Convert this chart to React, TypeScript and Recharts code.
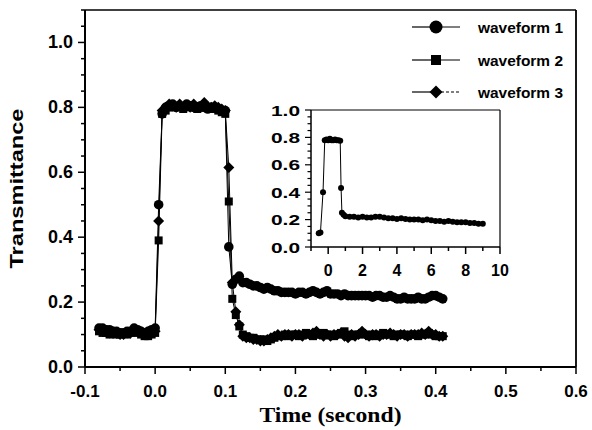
import React from "react";
import { LineChart, Line, XAxis, YAxis, ReferenceLine, Legend } from "recharts";

// main plot: time (s) and transmittance of the three waveforms
const times = [
  -0.08, -0.075, -0.07, -0.065, -0.06, -0.055, -0.05, -0.045, -0.04, -0.035,
  -0.03, -0.025, -0.02, -0.015, -0.01, -0.005, 0, 0.005, 0.01, 0.015,
  0.02, 0.025, 0.03, 0.035, 0.04, 0.045, 0.05, 0.055, 0.06, 0.065,
  0.07, 0.075, 0.08, 0.085, 0.09, 0.095, 0.1, 0.105, 0.11, 0.115,
  0.12, 0.125, 0.13, 0.135, 0.14, 0.145, 0.15, 0.155, 0.16, 0.165,
  0.17, 0.175, 0.18, 0.185, 0.19, 0.195, 0.2, 0.205, 0.21, 0.215,
  0.22, 0.225, 0.23, 0.235, 0.24, 0.245, 0.25, 0.255, 0.26, 0.265,
  0.27, 0.275, 0.28, 0.285, 0.29, 0.295, 0.3, 0.305, 0.31, 0.315,
  0.32, 0.325, 0.33, 0.335, 0.34, 0.345, 0.35, 0.355, 0.36, 0.365,
  0.37, 0.375, 0.38, 0.385, 0.39, 0.395, 0.4, 0.405, 0.41,
];

const wave1 = [
  0.12, 0.12, 0.115, 0.115, 0.11, 0.11, 0.105, 0.105, 0.11, 0.11,
  0.12, 0.115, 0.11, 0.105, 0.11, 0.115, 0.12, 0.5, 0.78, 0.8,
  0.805, 0.81, 0.8, 0.805, 0.8, 0.81, 0.805, 0.8, 0.8, 0.805,
  0.8, 0.795, 0.8, 0.8, 0.795, 0.79, 0.79, 0.37, 0.255, 0.27,
  0.28, 0.26, 0.26, 0.255, 0.25, 0.25, 0.245, 0.24, 0.245, 0.24,
  0.235, 0.235, 0.23, 0.23, 0.23, 0.23, 0.225, 0.23, 0.23, 0.225,
  0.23, 0.235, 0.23, 0.225, 0.23, 0.235, 0.225, 0.225, 0.225, 0.22,
  0.225, 0.22, 0.22, 0.22, 0.22, 0.22, 0.22, 0.22, 0.215, 0.22,
  0.22, 0.215, 0.215, 0.22, 0.215, 0.21, 0.21, 0.215, 0.21, 0.21,
  0.21, 0.215, 0.21, 0.21, 0.215, 0.22, 0.22, 0.215, 0.21,
];

const wave2 = [
  0.11, 0.105, 0.105, 0.1, 0.105, 0.1, 0.1, 0.105, 0.1, 0.105,
  0.11, 0.105, 0.1, 0.095, 0.095, 0.1, 0.105, 0.39, 0.78, 0.79,
  0.8, 0.8, 0.805, 0.8, 0.795, 0.8, 0.805, 0.8, 0.795, 0.8,
  0.8, 0.8, 0.795, 0.8, 0.79, 0.785, 0.78, 0.51, 0.21, 0.16,
  0.125, 0.1, 0.095, 0.09, 0.09, 0.085, 0.085, 0.085, 0.08, 0.085,
  0.09, 0.095, 0.095, 0.1, 0.095, 0.1, 0.1, 0.095, 0.1, 0.105,
  0.1, 0.095, 0.1, 0.1, 0.105, 0.1, 0.1, 0.095, 0.1, 0.105,
  0.11, 0.1, 0.095, 0.1, 0.1, 0.105, 0.1, 0.095, 0.1, 0.095,
  0.1, 0.105, 0.1, 0.1, 0.095, 0.1, 0.1, 0.1, 0.095, 0.1,
  0.1, 0.095, 0.1, 0.1, 0.105, 0.1, 0.095, 0.095, 0.095,
];

const wave3 = [
  0.115, 0.11, 0.11, 0.105, 0.105, 0.105, 0.1, 0.1, 0.105, 0.105,
  0.115, 0.11, 0.105, 0.1, 0.1, 0.105, 0.11, 0.45, 0.79, 0.8,
  0.81, 0.805, 0.8, 0.81, 0.8, 0.805, 0.8, 0.81, 0.8, 0.8,
  0.815, 0.8, 0.8, 0.805, 0.8, 0.795, 0.79, 0.615, 0.26, 0.17,
  0.13, 0.095, 0.09, 0.09, 0.085, 0.085, 0.08, 0.08, 0.085, 0.09,
  0.095, 0.1, 0.095, 0.1, 0.1, 0.095, 0.1, 0.1, 0.095, 0.1,
  0.1, 0.105, 0.11, 0.1, 0.095, 0.1, 0.095, 0.1, 0.1, 0.105,
  0.095, 0.09, 0.1, 0.095, 0.1, 0.11, 0.1, 0.095, 0.1, 0.1,
  0.095, 0.1, 0.1, 0.105, 0.1, 0.095, 0.1, 0.1, 0.095, 0.1,
  0.1, 0.1, 0.105, 0.1, 0.11, 0.1, 0.1, 0.095, 0.095,
];

const seriesNames = ["waveform 1", "waveform 2", "waveform 3"];

// inset: long time scale
const insetTimes = [
  -0.55, -0.45, -0.3, -0.2, -0.1, 0, 0.1, 0.2, 0.3, 0.4,
  0.5, 0.6, 0.7, 0.75, 0.8, 0.9, 1.0, 1.25, 1.5, 1.75,
  2.0, 2.25, 2.5, 2.75, 3.0, 3.25, 3.5, 3.75, 4.0, 4.25,
  4.5, 4.75, 5.0, 5.25, 5.5, 5.75, 6.0, 6.25, 6.5, 6.75,
  7.0, 7.25, 7.5, 7.75, 8.0, 8.25, 8.5, 8.75, 9.0,
];
const insetValues = [
  0.1, 0.105, 0.4, 0.78, 0.785, 0.78, 0.79, 0.78, 0.78, 0.785,
  0.78, 0.78, 0.775, 0.43, 0.25, 0.235, 0.225, 0.22, 0.22, 0.215,
  0.22, 0.215, 0.215, 0.22, 0.22, 0.215, 0.21, 0.21, 0.205, 0.21,
  0.205, 0.2, 0.2, 0.2, 0.195, 0.2, 0.195, 0.19, 0.19, 0.185,
  0.19, 0.185, 0.18, 0.18, 0.18, 0.175, 0.175, 0.17, 0.17,
];

// ticks
const xMajor = [-0.1, 0, 0.1, 0.2, 0.3, 0.4, 0.5, 0.6];
const xMinor = [-0.05, 0.05, 0.15, 0.25, 0.35, 0.45, 0.55];
const yMajor = [0, 0.2, 0.4, 0.6, 0.8, 1.0];
const yMinor = [
  0.05, 0.1, 0.15, 0.25, 0.3, 0.35, 0.45, 0.5, 0.55, 0.65, 0.7, 0.75,
  0.85, 0.9, 0.95, 1.05, 1.1,
];
const insetXMajor = [0, 2, 4, 6, 8, 10];
const insetXMinor = [-1, 1, 3, 5, 7, 9];
const insetYMajor = [0, 0.2, 0.4, 0.6, 0.8, 1.0];
const insetYMinor = [
  0.05, 0.1, 0.15, 0.25, 0.3, 0.35, 0.45, 0.5, 0.55, 0.65, 0.7, 0.75,
  0.85, 0.9, 0.95,
];

const data = times.map((t, i) => ({ t, w1: wave1[i], w2: wave2[i], w3: wave3[i] }));
const insetData = insetTimes.map((t, i) => ({ t, v: insetValues[i] }));

const sortTicks = (a: number[], b: number[]) => [...a, ...b].sort((p, q) => p - q);
const isIn = (list: number[], v: number) => list.some((m) => Math.abs(m - v) < 1e-6);

const SANS = "'Liberation Sans', Arial, sans-serif";
const SERIF = "'Liberation Serif', 'Times New Roman', serif";

function MainXTick(props: any) {
  const { x, y, payload } = props;
  const major = isIn(xMajor, payload.value);
  return (
    <g>
      <line x1={x} y1={y} x2={x} y2={y + (major ? 7 : 4)} stroke="#000" strokeWidth={1.5} />
      {major && (
        <text x={x} y={y + 30} textAnchor="middle" fontFamily={SANS} fontWeight="bold" fontSize={17} fill="#000">
          {payload.value.toFixed(1)}
        </text>
      )}
    </g>
  );
}

function MainYTick(props: any) {
  const { x, y, payload } = props;
  const major = isIn(yMajor, payload.value);
  return (
    <g>
      <line x1={x} y1={y} x2={x - (major ? 7 : 4)} y2={y} stroke="#000" strokeWidth={1.5} />
      {major && (
        <text x={x - 12} y={y + 6} textAnchor="end" fontFamily={SANS} fontWeight="bold" fontSize={18} fill="#000">
          {payload.value.toFixed(1)}
        </text>
      )}
    </g>
  );
}

function InsetXTick(props: any) {
  const { x, y, payload } = props;
  const major = isIn(insetXMajor, payload.value);
  return (
    <g>
      <line x1={x} y1={y} x2={x} y2={y + (major ? 7 : 4)} stroke="#000" strokeWidth={1.5} />
      {major && (
        <text x={x} y={y + 29} textAnchor="middle" fontFamily={SANS} fontWeight="bold" fontSize={16} fill="#000">
          {String(payload.value)}
        </text>
      )}
    </g>
  );
}

function InsetYTick(props: any) {
  const { x, y, payload } = props;
  const major = isIn(insetYMajor, payload.value);
  return (
    <g>
      <line x1={x} y1={y} x2={x - (major ? 6 : 3.5)} y2={y} stroke="#000" strokeWidth={1.2} />
      {major && (
        <text
          x={x - 11}
          y={y + 5.5}
          textAnchor="end"
          fontFamily={SANS}
          fontWeight="bold"
          fontSize={15}
          textLength={29}
          lengthAdjust="spacingAndGlyphs"
          fill="#000"
        >
          {payload.value.toFixed(1)}
        </text>
      )}
    </g>
  );
}

const CircleDot = (p: any) =>
  p.cx == null ? <g key={p.index} /> : <circle key={p.index} cx={p.cx} cy={p.cy} r={4.8} fill="#000" />;
const SquareDot = (p: any) =>
  p.cx == null ? <g key={p.index} /> : <rect key={p.index} x={p.cx - 4} y={p.cy - 4} width={8} height={8} fill="#000" />;
const DiamondDot = (p: any) =>
  p.cx == null ? (
    <g key={p.index} />
  ) : (
    <path key={p.index} d={`M${p.cx},${p.cy - 5.5}L${p.cx + 5.5},${p.cy}L${p.cx},${p.cy + 5.5}L${p.cx - 5.5},${p.cy}Z`} fill="#000" />
  );
const SmallDot = (p: any) =>
  p.cx == null ? <g key={p.index} /> : <circle key={p.index} cx={p.cx} cy={p.cy} r={3} fill="#000" />;

function renderLegend() {
  const rows = [27, 60, 92];
  return (
    <svg width={180} height={110}>
      {seriesNames.map((name, i) => {
        const y = rows[i];
        return (
          <g key={name}>
            <line x1={12} y1={y} x2={36} y2={y} stroke="#000" strokeWidth={1.2} />
            <line x1={36} y1={y} x2={60} y2={y} stroke="#000" strokeWidth={1} strokeDasharray={i === 2 ? "3 2" : undefined} />
            {i === 0 && <circle cx={36} cy={y} r={6.5} fill="#000" />}
            {i === 1 && <rect x={31} y={y - 5} width={10} height={10} fill="#000" />}
            {i === 2 && <path d={`M36,${y - 6.5}L42.5,${y}L36,${y + 6.5}L29.5,${y}Z`} fill="#000" />}
            <text x={78} y={y + 6} fontFamily={SANS} fontWeight="bold" fontSize={15} textLength={85} lengthAdjust="spacingAndGlyphs" fill="#000">
              {name}
            </text>
          </g>
        );
      })}
    </svg>
  );
}

const xTitle = (props: any) => {
  const vb = props.viewBox;
  return (
    <text
      x={vb.x + vb.width / 2}
      y={vb.y + 55}
      textAnchor="middle"
      fontFamily={SERIF}
      fontWeight="bold"
      fontSize={21}
      textLength={142}
      lengthAdjust="spacingAndGlyphs"
      fill="#000"
    >
      Time (second)
    </text>
  );
};

const yTitle = (props: any) => {
  const vb = props.viewBox;
  const cx = vb.x + 23;
  const cy = vb.y + vb.height / 2;
  return (
    <text
      x={cx}
      y={cy}
      transform={`rotate(-90, ${cx}, ${cy})`}
      textAnchor="middle"
      fontFamily={SANS}
      fontWeight="bold"
      fontSize={18}
      textLength={160}
      lengthAdjust="spacingAndGlyphs"
      fill="#000"
    >
      Transmittance
    </text>
  );
};

export default function App() {
  return (
    <div style={{ position: "absolute", left: 0, top: 0, width: 592, height: 430, background: "#fff" }}>
      <LineChart width={592} height={430} data={data} margin={{ top: 10, right: 16, bottom: 0, left: 0 }}>
        <XAxis
          type="number"
          dataKey="t"
          domain={[-0.1, 0.6]}
          ticks={sortTicks(xMajor, xMinor)}
          interval={0}
          allowDataOverflow
          height={63}
          tickSize={0}
          tickMargin={0}
          tickLine={false}
          tick={<MainXTick />}
          axisLine={{ stroke: "#000", strokeWidth: 2 }}
          label={xTitle}
        />
        <YAxis
          type="number"
          domain={[0, 1.1]}
          ticks={sortTicks(yMajor, yMinor)}
          interval={0}
          allowDataOverflow
          width={85}
          tickSize={0}
          tickMargin={0}
          tickLine={false}
          tick={<MainYTick />}
          axisLine={{ stroke: "#000", strokeWidth: 2 }}
          label={yTitle}
        />
        <ReferenceLine y={1.1} stroke="#000" strokeWidth={1.5} />
        <ReferenceLine x={0.6} stroke="#000" strokeWidth={1.8} />
        <Legend
          layout="vertical"
          align="center"
          verticalAlign="middle"
          wrapperStyle={{ position: "absolute", left: 400, top: 0, width: 180, height: 110 }}
          content={renderLegend}
        />
        <Line dataKey="w1" name={seriesNames[0]} stroke="#000" strokeWidth={1} dot={CircleDot} activeDot={false} isAnimationActive={false} />
        <Line dataKey="w2" name={seriesNames[1]} stroke="#000" strokeWidth={1} dot={SquareDot} activeDot={false} isAnimationActive={false} />
        <Line dataKey="w3" name={seriesNames[2]} stroke="#000" strokeWidth={1} dot={DiamondDot} activeDot={false} isAnimationActive={false} />
      </LineChart>

      <div style={{ position: "absolute", left: 250, top: 100 }}>
        <LineChart width={260} height={185} data={insetData} margin={{ top: 10, right: 10, bottom: 0, left: 0 }}>
          <XAxis
            type="number"
            dataKey="t"
            domain={[-1, 10]}
            ticks={sortTicks(insetXMajor, insetXMinor)}
            interval={0}
            allowDataOverflow
            height={38}
            tickSize={0}
            tickMargin={0}
            tickLine={false}
            tick={<InsetXTick />}
            axisLine={{ stroke: "#000", strokeWidth: 1.5 }}
          />
          <YAxis
            type="number"
            domain={[0, 1]}
            ticks={sortTicks(insetYMajor, insetYMinor)}
            interval={0}
            allowDataOverflow
            width={61}
            tickSize={0}
            tickMargin={0}
            tickLine={false}
            tick={<InsetYTick />}
            axisLine={{ stroke: "#000", strokeWidth: 1.5 }}
          />
          <ReferenceLine y={1} stroke="#000" strokeWidth={1} />
          <ReferenceLine x={10} stroke="#000" strokeWidth={1.2} />
          <Line dataKey="v" stroke="#000" strokeWidth={1} dot={SmallDot} activeDot={false} isAnimationActive={false} />
        </LineChart>
      </div>
    </div>
  );
}
